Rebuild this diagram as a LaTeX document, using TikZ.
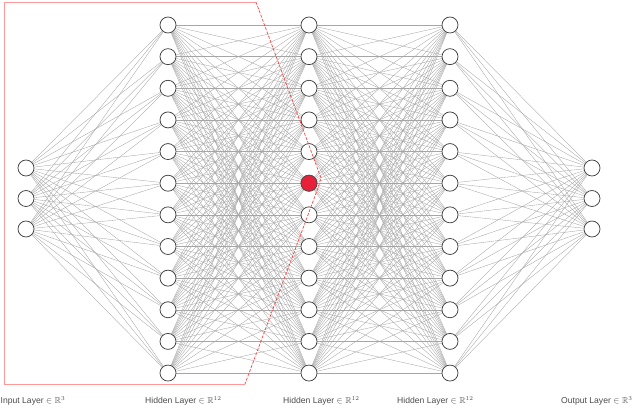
\documentclass[tikz,border=0pt]{standalone}
\usepackage{fontspec}
\usepackage{amssymb}
\setmainfont{Liberation Sans}
\usetikzlibrary{backgrounds}
\definecolor{nodered}{HTML}{E8213A}
\begin{document}
\begin{tikzpicture}[x=1pt,y=-1pt,
  neuron/.style={circle,draw=black!75,line width=0.75pt,fill=white,minimum size=16pt,inner sep=0pt},
  edge/.style={draw=black!35,line width=0.35pt},
  lbl/.style={anchor=west,text=black!70,font=\fontsize{8.6}{10}\selectfont,inner sep=0pt},
  redline/.style={draw=red!40,line width=0.8pt},
  reddash/.style={draw=red!75,line width=0.7pt,dash pattern=on 3pt off 1.5pt}]
\useasboundingbox (0,0) rectangle (640,408);
% nodes
\foreach \i in {1,...,3} \node[neuron] (I\i) at (26,{168+30.5*(\i-1)}) {};
\foreach \i in {1,...,12} {
  \node[neuron] (A\i) at (168,{25+31.64*(\i-1)}) {};
  \node[neuron] (B\i) at (309,{25+31.64*(\i-1)}) {};
  \node[neuron] (C\i) at (450,{25+31.64*(\i-1)}) {};
}
\foreach \i in {1,...,3} \node[neuron] (O\i) at (592,{168+30.5*(\i-1)}) {};
\node[neuron,fill=nodered,draw=black!70] at (B6) {};
% edges
\begin{scope}[on background layer]
\foreach \i in {1,...,3} \foreach \j in {1,...,12} {
  \draw[edge] (I\i) -- (A\j);
  \draw[edge] (C\j) -- (O\i);
}
\foreach \i in {1,...,12} \foreach \j in {1,...,12} {
  \draw[edge] (A\i) -- (B\j);
  \draw[edge] (B\i) -- (C\j);
}
\end{scope}
% red outline
\coordinate (r1) at (4,384);
\coordinate (r2) at (4,2);
\coordinate (r3) at (256,2);
\coordinate (r4) at (321,178);
\coordinate (r5) at (318,188);
\coordinate (r6) at (245,384);
\draw[redline] (r6) -- (r1) -- (r2) -- (r3);
\draw[reddash] (r3) -- (r4) -- (r5) -- (r6);
% labels
\node[lbl] (L1) at (0.5,401) {Input Layer $\in\mathbb{R}^3$};
\node[lbl] (L2) at (145,401) {Hidden Layer $\in\mathbb{R}^{12}$};
\node[lbl] (L3) at (283,401) {Hidden Layer $\in\mathbb{R}^{12}$};
\node[lbl] (L4) at (397,401) {Hidden Layer $\in\mathbb{R}^{12}$};
\node[lbl] (L5) at (561,401) {Output Layer $\in\mathbb{R}^3$};
\end{tikzpicture}
\end{document}
